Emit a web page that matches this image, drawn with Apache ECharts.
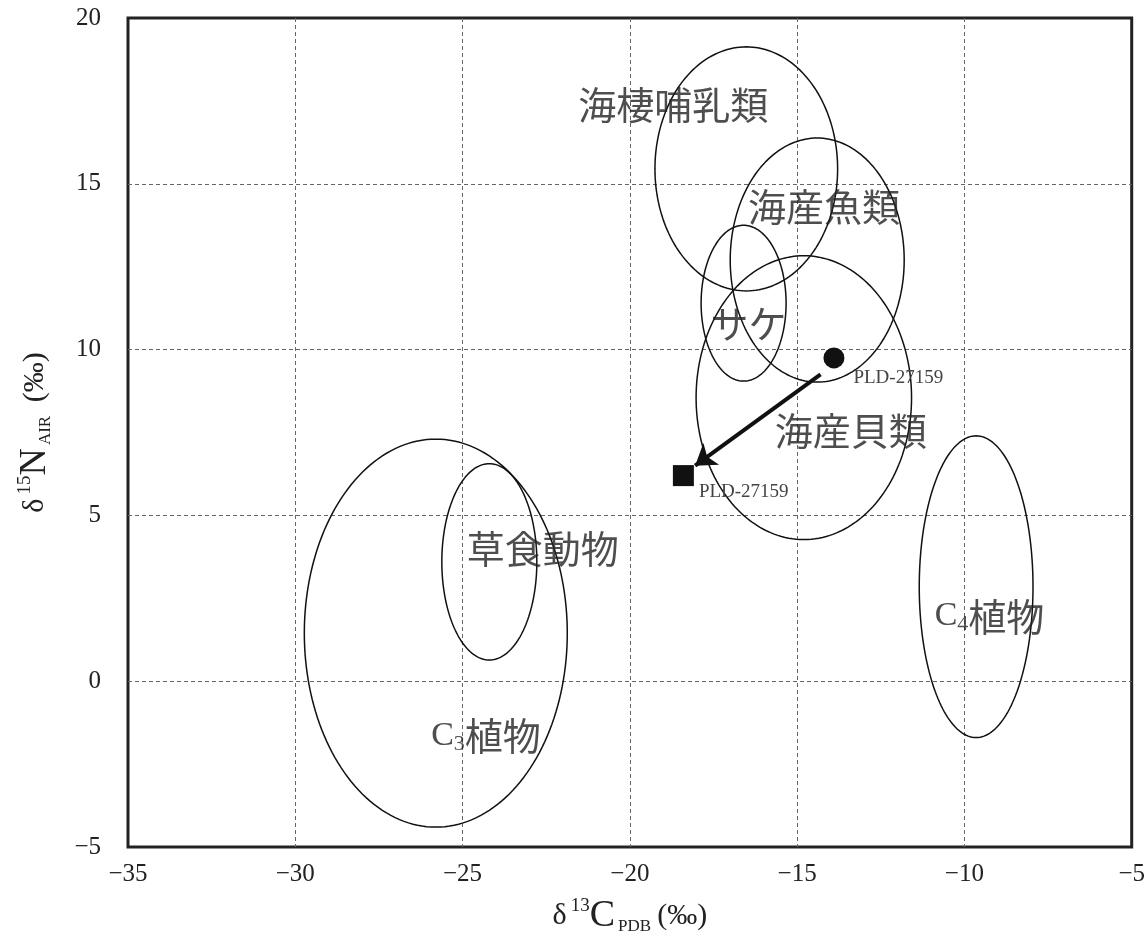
<!DOCTYPE html>
<html>
<head>
<meta charset="utf-8">
<script src="https://cdn.jsdelivr.net/npm/echarts@6.0.0/dist/echarts.min.js"></script>
<style>
  html, body { margin: 0; padding: 0; background: #fff; }
  #chart { width: 1148px; height: 950px; }
</style>
</head>
<body>
<div id="chart"></div>
<script>
// ellipse ranges (δ13C, δ15N)
const groups = ["C3植物", "草食動物", "海棲哺乳類", "海産魚類", "サケ", "海産貝類", "C4植物"];
const centerX = [-25.8, -24.2, -16.52, -14.4, -16.6, -14.8, -9.65];
const centerY = [1.45, 3.6, 15.45, 12.7, 11.4, 8.55, 2.85];
const radiusX = [3.93, 1.42, 2.73, 2.6, 1.27, 3.22, 1.7];
const radiusY = [5.85, 2.96, 3.68, 3.68, 2.35, 4.28, 4.55];

// group label anchors
const labelText = ["海棲哺乳類", "海産魚類", "サケ", "海産貝類", "草食動物", "C3植物", "C4植物"];
const labelX = [-18.7, -14.2, -16.45, -13.4, -22.6, -24.3, -9.25];
const labelY = [17.4, 14.3, 10.8, 7.55, 4.0, -1.65, 1.95];

// sample measurements
const sampleName = "PLD-27159";
const sampleBefore = [-13.9, 9.75];
const sampleAfter = [-18.4, 6.2];
const arrowFrom = [-14.3, 9.25];
const arrowTo = [-18.05, 6.5];

const xTicks = [-35, -30, -25, -20, -15, -10, -5];
const yTicks = [-5, 0, 5, 10, 15, 20];

const serif = "'Liberation Serif', 'DejaVu Serif', serif";
const cjk = "'Noto Sans CJK JP', sans-serif";

function tickText(v) {
  return String(v).replace("-", "−");
}

function richLabel(text) {
  const m = text.match(/^C(\d)(.*)$/);
  if (m) return `{c|C}{s|${m[1]}}{t|${m[2]}}`;
  return `{t|${text}}`;
}

const ellipseData = groups.map((g, i) => ({ name: g, value: [centerX[i], centerY[i], radiusX[i], radiusY[i]] }));

function renderEllipse(params, api) {
  const cx = api.value(0), cy = api.value(1), rx = api.value(2), ry = api.value(3);
  const points = [];
  for (let i = 0; i < 180; i++) {
    const t = (i / 180) * Math.PI * 2;
    points.push(api.coord([cx + rx * Math.cos(t), cy + ry * Math.sin(t)]));
  }
  return {
    type: "polygon",
    shape: { points },
    style: { fill: "none", stroke: "#111", lineWidth: 1.5 }
  };
}

const nameRich = {
  sup: { fontFamily: serif, fontSize: 19, verticalAlign: "top", color: "#222", padding: [0, 0, 0, 4] },
  c: { fontFamily: serif, fontSize: 38, color: "#222" },
  sub: { fontFamily: serif, fontSize: 17, verticalAlign: "bottom", color: "#222", padding: [0, 6, 0, 3] },
  p: { fontFamily: serif, fontSize: 30, color: "#222" }
};

const chart = echarts.init(document.getElementById("chart"));
chart.setOption({
  animation: false,
  backgroundColor: "#fff",
  grid: { left: 128, right: 16, top: 18, bottom: 103, show: true, borderColor: "#222", borderWidth: 3, backgroundColor: "transparent" },
  xAxis: {
    type: "value", min: xTicks[0], max: xTicks[xTicks.length - 1], interval: 5,
    axisLine: { show: false }, axisTick: { show: false },
    axisLabel: { color: "#222", fontFamily: serif, fontSize: 25, margin: 15, formatter: tickText },
    splitLine: { show: true, showMinLine: false, showMaxLine: false, lineStyle: { color: "#666", width: 1, type: [4, 3] } },
    name: "δ{sup|13}{c|C}{sub|PDB}{p|(‰)}",
    nameLocation: "middle", nameGap: 50,
    nameTextStyle: { color: "#222", fontFamily: serif, fontSize: 30, rich: nameRich }
  },
  yAxis: {
    type: "value", min: yTicks[0], max: yTicks[yTicks.length - 1], interval: 5,
    axisLine: { show: false }, axisTick: { show: false },
    axisLabel: { color: "#222", fontFamily: serif, fontSize: 25, margin: 27, formatter: tickText },
    splitLine: { show: true, showMinLine: false, showMaxLine: false, lineStyle: { color: "#666", width: 1, type: [4, 3] } },
    name: "δ{sup|15}{c|N}{sub|AIR}{p| (‰)}",
    nameLocation: "middle", nameGap: 74,
    nameTextStyle: { color: "#222", fontFamily: serif, fontSize: 30, rich: nameRich }
  },
  series: [
    {
      type: "custom",
      renderItem: renderEllipse,
      data: ellipseData,
      z: 2,
      silent: true
    },
    {
      type: "scatter",
      data: labelText.map((t, i) => [labelX[i], labelY[i], t]),
      symbolSize: 1,
      itemStyle: { color: "rgba(0,0,0,0)" },
      z: 3,
      label: {
        show: true, position: "inside",
        formatter: (p) => richLabel(p.value[2]),
        rich: {
          t: { fontFamily: cjk, fontSize: 38, color: "#222" },
          c: { fontFamily: serif, fontSize: 34, color: "#222" },
          s: { fontFamily: serif, fontSize: 22, color: "#222", verticalAlign: "bottom", padding: [14, 0, 0, 0] }
        }
      }
    },
    {
      type: "lines",
      coordinateSystem: "cartesian2d",
      z: 4,
      symbol: ["none", "arrow"],
      symbolSize: 20,
      lineStyle: { color: "#111", width: 4, opacity: 1 },
      data: [{ coords: [arrowFrom, arrowTo] }]
    },
    {
      type: "scatter",
      z: 5,
      symbol: "circle",
      symbolSize: 21,
      itemStyle: { color: "#111", opacity: 1 },
      data: [sampleBefore],
      label: { show: true, position: "right", offset: [4, 20], formatter: sampleName, fontFamily: serif, fontSize: 19, color: "#444" }
    },
    {
      type: "scatter",
      z: 5,
      symbol: "rect",
      symbolSize: 21,
      itemStyle: { color: "#111", opacity: 1 },
      data: [sampleAfter],
      label: { show: true, position: "right", offset: [0, 16], formatter: sampleName, fontFamily: serif, fontSize: 19, color: "#444" }
    }
  ]
});
</script>
</body>
</html>
